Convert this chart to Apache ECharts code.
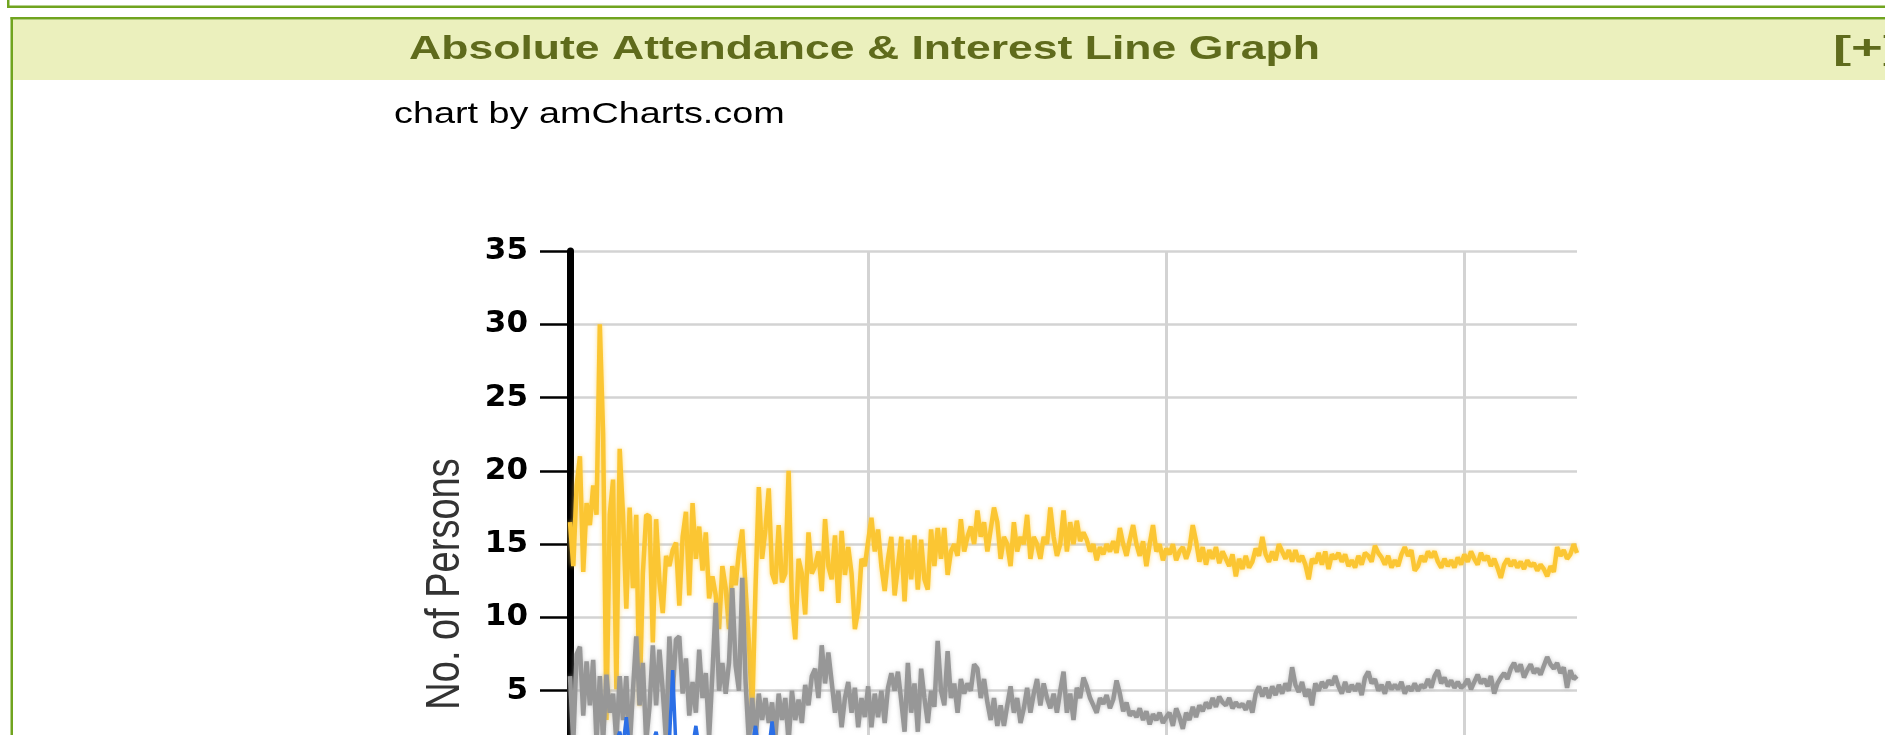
<!doctype html>
<html>
<head>
<meta charset="utf-8">
<title>Absolute Attendance &amp; Interest Line Graph</title>
<style>
html, body { margin: 0; padding: 0; background: #fff; overflow: hidden; }
#main { width: 1885px; height: 860px; }
</style>
</head>
<body>
<div id="main"></div>
<script src="https://cdn.jsdelivr.net/npm/echarts@6/dist/echarts.min.js"></script>
<script>
// values, one per original pixel column
var interested = [
    16.5, 13.5, 19, 21, 13.1, 17.8, 16.3, 19, 17, 30,
    22.5, 3, 17, 19.4, 5.1, 21.5, 17, 10.6, 17.5, 12,
    17, 4, 13, 17, 16.9, 8.3, 16.7, 12.4, 10.3, 14.2,
    13.5, 14.6, 15.1, 10.8, 15.5, 17.2, 11.5, 17.8, 14, 16.2,
    13.2, 15.8, 11.3, 12.8, 11.5, 9.2, 13.5, 12, 9.2, 13.5,
    12.2, 14.5, 16, 12, 8.3, 3.4, 12, 18.9, 14, 16,
    18.8, 13, 12.3, 16.3, 12.4, 13, 20, 11, 8.5, 14,
    13, 10.2, 15.8, 13, 13.5, 14.5, 11.8, 16.7, 13.5, 12.6,
    15.6, 11, 15.9, 12.9, 14.8, 13, 9.2, 10.5, 14, 13.5,
    15.2, 16.8, 14.5, 16, 13.5, 11.8, 14, 15.5, 11.5, 13.5,
    15.5, 11.1, 15.3, 12.6, 15.6, 11.9, 15.3, 12.6, 11.9, 16,
    13.5, 16.1, 14, 16.1, 12.9, 14.5, 15, 14.2, 16.7, 14.5,
    15.5, 16.2, 15, 17.3, 15.5, 16.5, 14.5, 16, 17.5, 16.5,
    14, 15.5, 15, 13.5, 16.5, 14.5, 15.5, 15, 17, 14,
    15.5, 15, 14, 15.5, 15, 17.5, 15.5, 14.2, 15, 17.3,
    14.5, 16.5, 15, 16.6, 15.2, 15.8, 15.3, 14.5, 15, 13.9,
    14.8, 14.3, 15, 14.5, 15.2, 14.4, 16.1, 15, 14.2, 15.3,
    16.3, 15, 14.2, 15.2, 13.5, 15, 16.3, 14.5, 15, 13.9,
    14.7, 14.3, 15, 13.9, 14.5, 14.8, 14, 14.7, 16.3, 15.2,
    13.8, 14.8, 13.6, 14.6, 14, 14.8, 13.7, 14.5, 14, 13.5,
    14.3, 12.8, 14, 13.3, 14.2, 13.4, 13.8, 14.7, 14.2, 15.5,
    14.3, 13.8, 14.5, 13.9, 15, 14.5, 14, 14.6, 13.8, 14.6,
    13.8, 14.2, 13.6, 12.6, 14, 13.7, 14.4, 13.6, 14.5, 13.3,
    14.3, 14, 14.4, 13.8, 14.3, 13.5, 13.9, 13.4, 14.2, 13.6,
    14.4, 14.2, 13.8, 14.9, 14.4, 14.1, 13.6, 14.2, 13.4, 13.9,
    13.5, 14.3, 14.8, 14.2, 14.6, 13.2, 13.5, 14.2, 13.8, 14.5,
    14.1, 14.5, 13.8, 13.4, 14, 13.5, 13.9, 13.4, 14.1, 13.6,
    14.3, 13.8, 14.5, 14, 13.6, 14.4, 13.9, 14.2, 13.5, 14,
    13.4, 12.7, 13.6, 14, 13.5, 13.9, 13.4, 13.8, 13.3, 13.9,
    13.5, 13.7, 13.2, 13.6, 13.3, 12.8, 13.5, 13.1, 14.8, 14.2,
    14.6, 14, 14.3, 15, 14.4
];
var attended = [
    6, 1.5, 7.5, 8, 3.3, 7, 4, 7.1, 1.5, 6,
    1.5, 6.1, 3.5, 4.8, 1.5, 6, 3, 6, 1, 5,
    8.7, 4, 6.9, 1.5, 3.9, 8.1, 4, 7.8, 5, 1.5,
    8.7, 4.8, 8.5, 8.7, 4.8, 7.2, 3.3, 5.6, 3.5, 7.8,
    4.5, 6.2, 1.8, 6.2, 11, 5, 6.9, 4.8, 6.9, 12,
    6.7, 5, 12.7, 5.6, 1.5, 4.5, 1.5, 4.8, 3, 4.5,
    2.8, 4.2, 1.8, 4.8, 3, 4.5, 1.5, 5, 3, 4.4,
    2.8, 5.4, 4, 6, 6.5, 4.5, 8.1, 5.5, 7.6, 5.6,
    3.5, 5, 2.5, 4.5, 5.6, 3.5, 5.2, 2.5, 4.5, 3.2,
    5.3, 2.5, 4.8, 3.2, 5, 2.8, 5.2, 6.2, 5, 6.3,
    4.3, 2.2, 6.9, 3.5, 5.5, 2.2, 6.5, 4.5, 2.8, 5,
    3.9, 8.4, 5, 4, 7.7, 4.5, 5.5, 3.5, 5.8, 4.8,
    5.5, 5, 6.8, 6.5, 4.5, 5.8, 4.2, 3, 4.5, 2.6,
    4, 2.6, 4, 5.3, 3.5, 4.5, 2.8, 3.8, 5.2, 3.5,
    4.8, 5.8, 4, 5.5, 4.5, 3.8, 4.8, 3.5, 5, 6.3,
    3.5, 4.8, 3, 5.2, 4.5, 5.9, 5.3, 4.5, 4, 3.5,
    4.5, 4.1, 4.7, 3.8, 4.4, 5.7, 4.8, 3.6, 4.2, 3.3,
    3.6, 3.2, 3.8, 3, 3.6, 2.7, 3.4, 3, 3.5, 2.8,
    3.2, 3.5, 2.6, 3.8, 3.2, 2.4, 3.5, 3, 3.9, 3.2,
    4, 3.6, 4.2, 3.8, 4.5, 3.9, 4.6, 4.2, 4, 4.5,
    3.8, 4.2, 3.9, 4.1, 3.7, 4.3, 3.5, 4.8, 5.3, 4.6,
    5.2, 4.5, 5.3, 4.7, 5.4, 4.8, 5.5, 5, 6.6, 5.4,
    4.9, 5.6, 4.6, 5.1, 4, 5.5, 5, 5.6, 5.2, 5.7,
    5.4, 6, 5.3, 4.8, 5.6, 4.9, 5.4, 5, 5.5, 4.7,
    5.9, 6.3, 5.5, 5.8, 5, 5.4, 4.8, 5.6, 5.1, 5.4,
    5.1, 5.6, 4.8, 5.3, 5, 5.5, 5, 5.4, 5.2, 5.8,
    5.2, 6, 6.4, 5.5, 5.9, 5.3, 5.7, 5.2, 5.6, 5.2,
    5.4, 5.8, 5.1, 5.6, 6.1, 5.5, 5.8, 5.3, 6, 4.8,
    5.5, 5.9, 6.2, 5.8, 6.5, 6.9, 6.3, 6.8, 5.9, 6.4,
    6.8, 6.2, 6.5, 6.1, 6.7, 7.3, 6.8, 6.5, 6.9, 6.2,
    6.6, 5.2, 6.4, 5.8, 6
];
// only the first columns of this line rise into view
var newcomers = [
    1, 0.5, 1.5, 1, 0, 1, 0.5, 1.5, 1, 0.5,
    1, 1.5, 0.5, 1, 1.5, 2.2, 1.2, 3.2, 1, 0.5,
    1, 1.5, 0.5, 1, 0.5, 1.5, 2.2, 1, 0.5, 1,
    1.5, 6.4, 1, 0.5, 1.5, 1, 0.5, 1.2, 2.6, 1,
    0.5, 1.5, 1, 0.5, 1, 1.5, 0.5, 1, 1.5, 0.5,
    1, 0.5, 1.5, 1, 0.5, 1.2, 2.6, 1, 0.5, 1.5,
    1, 2.9, 1, 0.5, 1.5, 1, 0.5, 1, 1.5, 0.5,
    1, 0.5, 1.5, 1, 0.5, 1, 1.5, 0.5, 1, 0.5,
    1.5, 1, 0.5, 1, 1.5, 0.5, 1, 0.5, 1, 1.5,
    0.5, 1, 0.5, 1.5, 1, 0.5, 1, 0.5, 1, 0.5
];
var yMin = 0, yMax = 35, yStep = 5;

var days = [];
for (var i = 0; i < interested.length; i++) days.push('Day ' + (i + 1));

var green = '#70a41f';
var olive = '#5f6b1c';

var chart = echarts.init(document.getElementById('main'));

chart.setOption({
    animation: false,
    backgroundColor: '#fff',
    graphic: [
        // box above the panel
        { type: 'rect', shape: { x: 7, y: 0, width: 2.5, height: 8 }, style: { fill: green } },
        { type: 'rect', shape: { x: 7, y: 5.5, width: 1878, height: 2.5 }, style: { fill: green } },
        // panel frame and title bar
        { type: 'rect', shape: { x: 12, y: 19.5, width: 1873, height: 60.5 }, style: { fill: '#ebf0bd' } },
        { type: 'rect', shape: { x: 10.5, y: 17, width: 1875, height: 2.5 }, style: { fill: green } },
        { type: 'rect', shape: { x: 10.5, y: 17, width: 2.5, height: 718 }, style: { fill: green } },
        {
            type: 'text', x: 409, y: 50, scaleX: 1.35,
            style: { text: 'Absolute Attendance & Interest Line Graph', font: 'bold 33px "Liberation Sans"', fill: olive, align: 'left', verticalAlign: 'middle' }
        },
        {
            type: 'text', x: 1833, y: 50, scaleX: 1.6,
            style: { text: '[+]', font: 'bold 34px "Liberation Sans"', fill: olive, align: 'left', verticalAlign: 'middle' }
        },
        {
            type: 'text', x: 394, y: 115, scaleX: 1.26,
            style: { text: 'chart by amCharts.com', font: '30px "Liberation Sans"', fill: '#000', align: 'left', verticalAlign: 'middle' }
        },
        {
            type: 'text', x: 446, y: 584, rotation: Math.PI / 2, scaleY: 1.26,
            style: { text: 'No. of Persons', font: '38px "Liberation Sans"', fill: '#333', align: 'center', verticalAlign: 'middle' }
        }
    ],
    grid: { left: 570, top: 251, width: 1007, height: 513 },
    xAxis: {
        type: 'category',
        data: days,
        boundaryGap: false,
        axisLine: { show: false },
        axisTick: { show: false, interval: 89 },
        axisLabel: { show: false, interval: 89 },
        splitLine: { show: true, interval: 89, lineStyle: { color: '#d3d3d3', width: 3 } }
    },
    yAxis: {
        type: 'value',
        min: yMin,
        max: yMax,
        interval: yStep,
        axisLine: { show: true, lineStyle: { color: '#000', width: 7 } },
        axisTick: { show: true, length: 30, lineStyle: { color: '#000', width: 2.5 } },
        axisLabel: { margin: 42, color: '#000', fontSize: 31, fontWeight: 'bold', fontFamily: 'DejaVu Sans' },
        splitLine: { show: true, lineStyle: { color: '#d3d3d3', width: 2.5 } }
    },
    series: [
        {
            name: 'Interested', type: 'line', data: interested, showSymbol: false,
            lineStyle: { color: '#fbc633', width: 4.5, shadowColor: 'rgba(253,210,90,0.7)', shadowBlur: 4 },
            itemStyle: { color: '#fbc633' }
        },
        {
            name: 'Attended', type: 'line', data: attended, showSymbol: false,
            lineStyle: { color: '#979797', width: 4.5, shadowColor: 'rgba(165,165,165,0.6)', shadowBlur: 4 },
            itemStyle: { color: '#979797' }
        },
        {
            name: 'New', type: 'line', data: newcomers, showSymbol: false,
            lineStyle: { color: '#2b6fe6', width: 3.5 }, itemStyle: { color: '#2b6fe6' }
        }
    ]
});
</script>
</body>
</html>
